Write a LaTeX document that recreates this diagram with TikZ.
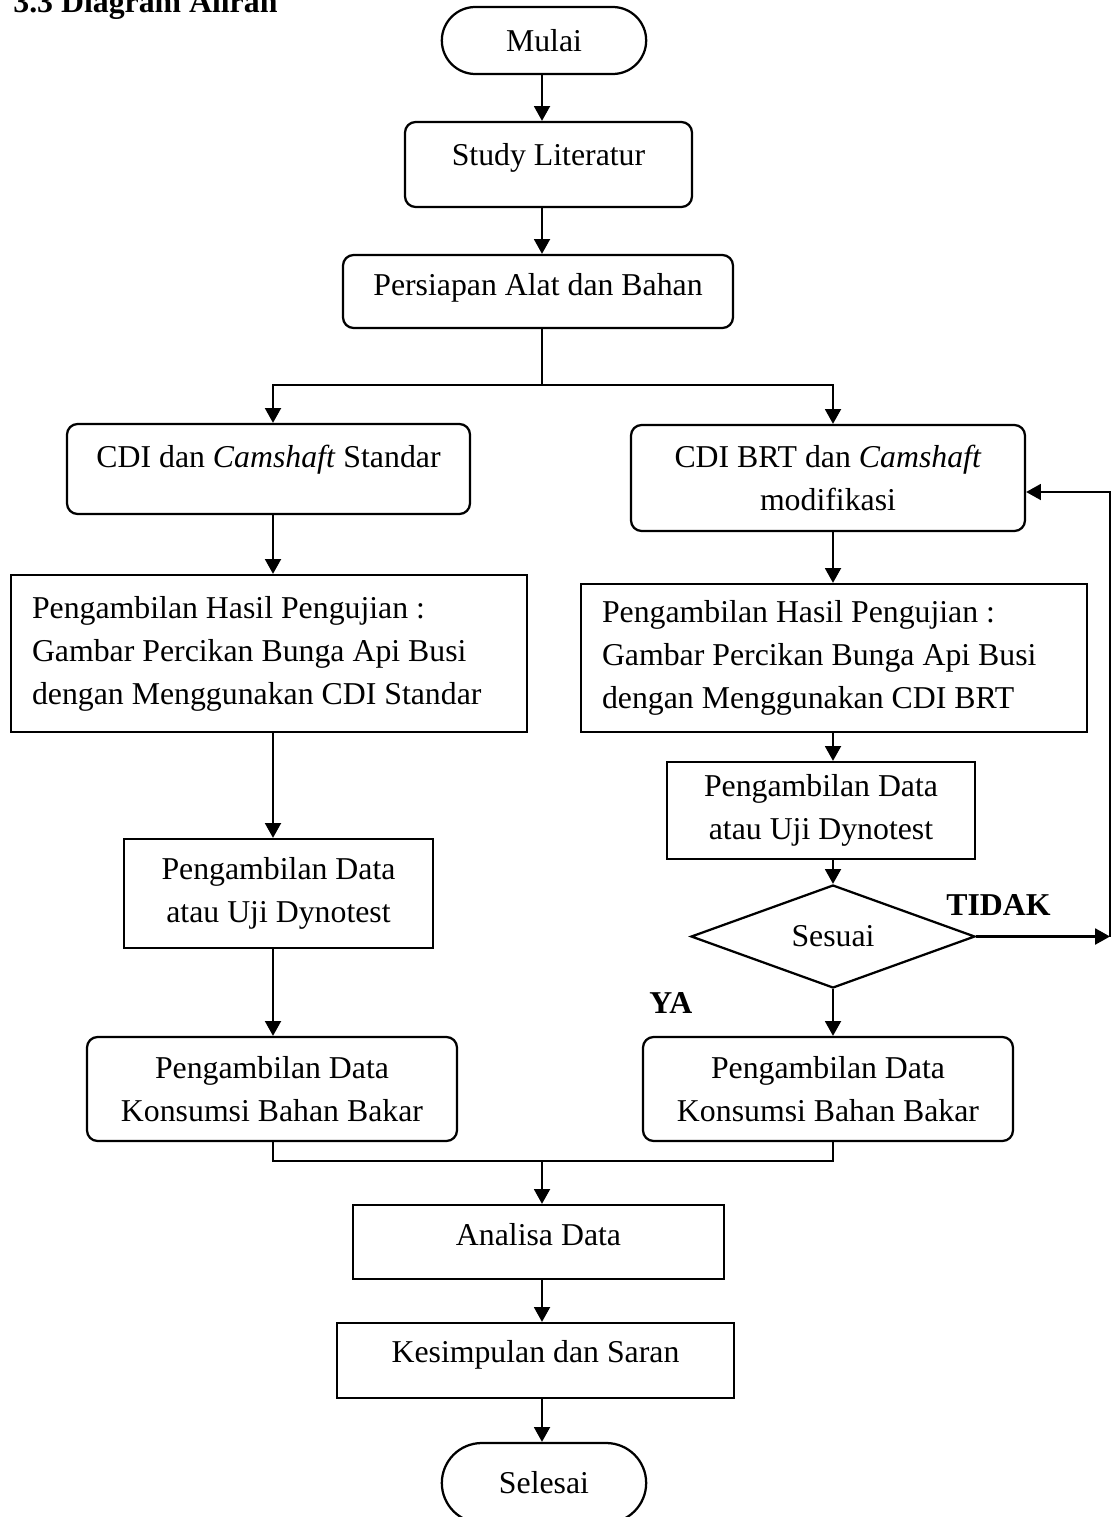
\documentclass[tikz,border=0pt]{standalone}
\usepackage{fontspec}
\setmainfont{Liberation Serif}
\usepackage{tikz}
\usetikzlibrary{shapes,arrows.meta}
\newlength{\px}
\setlength{\px}{0.3774pt}

\begin{document}
\begin{tikzpicture}[x=\px,y=-\px]
		\useasboundingbox (0,0) rectangle (1112,1517);
		\begin{scope}
            [
                every node/.style={font=\fontsize{12pt}{16.2pt}\selectfont},
				styleTerm/.style={
					draw, line width=0.85pt, rounded rectangle,
					minimum width=222\px, minimum height=#1\px
					},
				styleStep/.style={draw, line width=0.85pt, rounded corners=4pt, align=center},
				styleBox/.style={draw, line width=0.85pt, align=center},
				styleDec/.style={draw, line width=0.85pt, diamond, aspect=2.76, inner sep=0pt,
					minimum width=284\px, minimum height=103\px},
				styleLabel/.style={font=\fontsize{12pt}{16.2pt}\selectfont\bfseries, anchor=base west},
            ]
			\node(title)[styleLabel] at (4,12) {3.3 Diagram Aliran};

			\node(mulai)[styleTerm=67] at (544,40.5) {Mulai};
			\node(study)[styleStep, minimum width=287\px, minimum height=85\px, text depth=21\px] at (548.5,164.5) {Study Literatur};
			\node(alat)[styleStep, minimum width=390\px, minimum height=73\px, text depth=15\px] at (538,291.5) {Persiapan Alat dan Bahan};

			\node(cdiStd)[styleStep, minimum width=403\px, minimum height=90\px, text depth=26\px] at (268.5,469) {CDI dan \textit{Camshaft} Standar};
			\node(hasilStd)[styleBox, align=flush left, text width=474\px, inner xsep=21\px, minimum height=157\px] at (269,653.5)
				{Pengambilan Hasil Pengujian :\\Gambar Percikan Bunga Api Busi\\dengan Menggunakan CDI Standar};
			\node(dataStd)[styleBox, minimum width=309\px, minimum height=109\px] at (278.5,893.5) {Pengambilan Data\\atau Uji Dynotest};
			\node(konsStd)[styleStep, minimum width=370\px, minimum height=104\px] at (272,1089) {Pengambilan Data\\Konsumsi Bahan Bakar};

			\node(cdiBrt)[styleStep, minimum width=394\px, minimum height=106\px] at (828,478) {CDI BRT dan \textit{Camshaft}\\modifikasi};
			\node(hasilBrt)[styleBox, align=flush left, text width=464\px, inner xsep=21\px, minimum height=148\px] at (834,658)
				{Pengambilan Hasil Pengujian :\\Gambar Percikan Bunga Api Busi\\dengan Menggunakan CDI BRT};
			\node(dataBrt)[styleBox, minimum width=308\px, minimum height=97\px] at (821,810.5) {Pengambilan Data\\atau Uji Dynotest};
			\node(sesuai)[styleDec] at (833,936.5) {Sesuai};
			\node(konsBrt)[styleStep, minimum width=370\px, minimum height=104\px] at (828,1089) {Pengambilan Data\\Konsumsi Bahan Bakar};

			\node(tidak)[styleLabel] at (937,915) {TIDAK};
			\node(ya)[styleLabel] at (640,1013) {YA};

			\node(analisa)[styleBox, minimum width=371\px, minimum height=74\px, text depth=16\px] at (538.5,1242) {Analisa Data};
			\node(saran)[styleBox, minimum width=397\px, minimum height=75\px, text depth=19\px] at (535.5,1360.5) {Kesimpulan dan Saran};
			\node(selesai)[styleTerm=80] at (544,1483) {Selesai};

			\coordinate(mid) at (542,0);
			\coordinate(colL) at (273,0);
			\coordinate(colR) at (833,0);
			\coordinate(split) at (542,385);
			\coordinate(join) at (542,1161);
			\coordinate(tk) at (1110,936.5);
			\coordinate(fb) at (1110,492);
		\end{scope}
		\begin{scope}
            [-{Triangle[length=5.6pt,width=6pt]}, line width=0.85pt]
			\draw (mid |- mulai.south) -- (mid |- study.north);
			\draw (mid |- study.south) -- (mid |- alat.north);
			\draw[-] (mid |- alat.south) -- (split);
			\draw (split) -| (colL |- cdiStd.north);
			\draw (split) -| (colR |- cdiBrt.north);

			\draw (colL |- cdiStd.south) -- (colL |- hasilStd.north);
			\draw (colL |- hasilStd.south) -- (colL |- dataStd.north);
			\draw (colL |- dataStd.south) -- (colL |- konsStd.north);

			\draw (colR |- cdiBrt.south) -- (colR |- hasilBrt.north);
			\draw (colR |- hasilBrt.south) -- (colR |- dataBrt.north);
			\draw (colR |- dataBrt.south) -- (sesuai.north);
			\draw (sesuai.south) -- (colR |- konsBrt.north);
			\draw (sesuai.east) -- (tk);
			\draw (tk) -- (fb) -- (cdiBrt.east |- fb);

			\draw[-] (colL |- konsStd.south) |- (join) -| (colR |- konsBrt.south);
			\draw (join) -- (mid |- analisa.north);
			\draw (mid |- analisa.south) -- (mid |- saran.north);
			\draw (mid |- saran.south) -- (mid |- selesai.north);
		\end{scope}
    \end{tikzpicture}
\end{document}
